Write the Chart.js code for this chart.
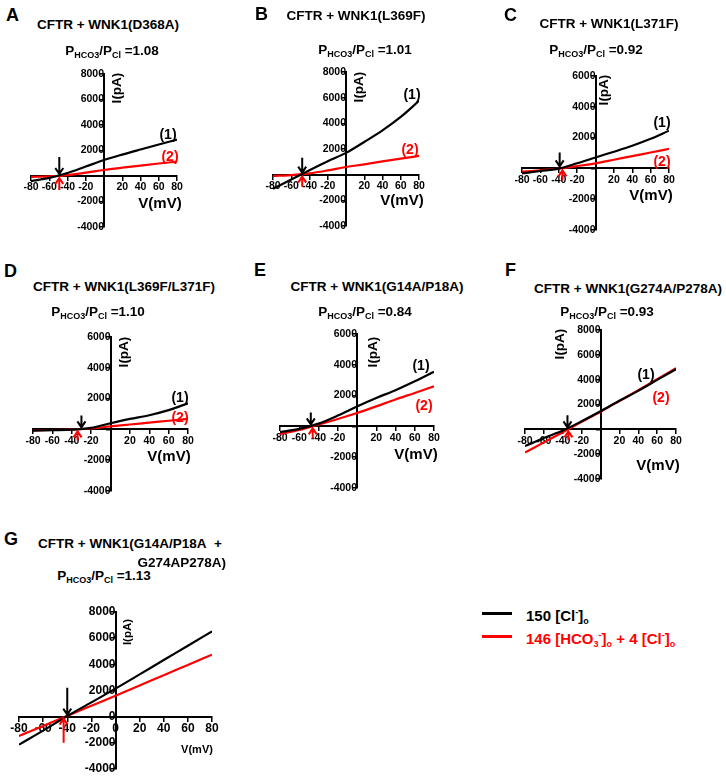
<!DOCTYPE html>
<html>
<head>
<meta charset="utf-8">
<script src="https://cdn.jsdelivr.net/npm/chart.js@4.4.1/dist/chart.umd.min.js"></script>
<style>
  body { margin: 0; background: #fff; font-family: "Liberation Sans", Arial, sans-serif; }
  #fig { position: relative; width: 726px; height: 777px; overflow: hidden; }
  #fig canvas { position: absolute; }
  .t { position: absolute; font-weight: bold; white-space: nowrap; color: #000; line-height: 1; }
  .c { transform: translate(-50%, -50%); }
  .l { transform: translateY(-50%); }
  .v { transform: translate(-50%, -50%) rotate(-90deg); }
  .red { color: #f00; }
  .s { font-size: 9px; position: relative; top: 3px; }
  .sp { font-size: 9px; position: relative; top: -6px; }
  .line { position: absolute; height: 3px; }
</style>
</head>
<body>
<div id="fig"></div>
<script>
// membrane voltage (mV), ramp points
const volts = [-80, -60, -40, -20, 0, 20, 40, 60, 80];

// (1) 150 [Cl-]o, current in pA
const clD368A  = [-400, -150, 230, 740, 1250, 1680, 2080, 2470, 2850];
const clL369F  = [-1100, -370, 350, 1050, 1700, 2550, 3450, 4500, 5750];
const clL371F  = [-320, -170, -15, 330, 712, 1080, 1470, 1920, 2450];
const clDouble = [-80, -50, -20, 100, 400, 680, 920, 1250, 1700];
const clG14A   = [-370, -160, 180, 700, 1300, 1850, 2350, 2930, 3550];
const clG274A  = [-1350, -700, -100, 650, 1450, 2300, 3100, 3980, 4850];
const clQuad   = [-2140, -1070, 50, 1090, 2140, 3230, 4330, 5420, 6520];

// (2) 146 [HCO3-]o + 4 [Cl-]o
const hcoD368A  = [-70, -30, 70, 260, 470, 650, 820, 980, 1130];
const hcoL369F  = [-100, -30, 100, 330, 600, 800, 1030, 1250, 1460];
const hcoL371F  = [-215, -120, -10, 150, 324, 560, 800, 1030, 1270];
const hcoDouble = [-60, -40, -10, 60, 200, 320, 440, 560, 680];
const hcoG14A   = [-500, -230, 120, 480, 870, 1300, 1750, 2170, 2600];
const hcoG274A  = [-1870, -1050, -230, 600, 1420, 2280, 3150, 4030, 4930];
const hcoQuad   = [-1480, -710, 60, 830, 1600, 2380, 3170, 3950, 4740];

// reversal potentials (mV) marked by the arrows
const revCl  = [-49, -48, -39, -30, -48, -35, -40];
const revHco = [-49, -48, -36, -34, -46, -34, -43];

const letters = ['A', 'B', 'C', 'D', 'E', 'F', 'G'];
const titles = ['CFTR + WNK1(D368A)', 'CFTR + WNK1(L369F)', 'CFTR + WNK1(L371F)',
  'CFTR + WNK1(L369F/L371F)', 'CFTR + WNK1(G14A/P18A)', 'CFTR + WNK1(G274A/P278A)',
  'CFTR + WNK1(G14A/P18A&nbsp; +'];
const ratios = ['1.08', '1.01', '0.92', '1.10', '0.84', '0.93', '1.13'];
const yMax = [8000, 8000, 6000, 6000, 6000, 8000, 8000];
const yMin = -4000;
const xStep = 20, yStep = 2000;

const clSets = [clD368A, clL369F, clL371F, clDouble, clG14A, clG274A, clQuad];
const hcoSets = [hcoD368A, hcoL369F, hcoL371F, hcoDouble, hcoG14A, hcoG274A, hcoQuad];

// ---- layout (pixels) ----
// chart area of each panel: left, top, right, bottom
const boxes = [
  [31, 74, 177, 227], [273, 72, 419, 226], [522, 76, 669, 230],
  [33, 337, 188, 491], [280, 334, 434, 488], [525, 330, 676, 479],
  [19, 612, 212, 769]
];
const letterPos = [[6, 15], [255, 14], [504, 15], [4, 271], [254, 270], [505, 270], [4, 539]];
const titlePos = [[108, 24.5], [356, 16], [609, 24], [124, 287], [377, 287], [628, 289], [130, 544]];
const ratioPos = [[112, 51], [365, 50], [596, 50], [98, 312], [365, 312], [607, 312], [104, 576]];
const vPos = [[160, 202], [402, 199], [651, 194], [169, 455], [416, 453], [658, 464], [197, 749]];
const iPos = [[117, 88], [359, 87], [604, 90], [124, 352], [373, 352], [560, 344], [128, 632]];
const oneLbl = [[168, 134], [412, 94], [662, 122], [180, 397], [421, 365], [646, 374]];
const twoLbl = [[170, 156], [410, 149], [662, 161], [180, 417], [424, 405], [661, 397]];
const arrowLen = [[17, 12], [15, 10], [14, 10], [12, 9], [12, 10], [12, 9], [27, 24]];

const fig = document.getElementById('fig');
function addText(html, x, y, cls, size) {
  const d = document.createElement('div');
  d.className = 't ' + cls;
  d.style.left = x + 'px';
  d.style.top = y + 'px';
  d.style.fontSize = size + 'px';
  d.innerHTML = html;
  fig.appendChild(d);
  return d;
}

// arrows at the reversal potentials
const revArrows = {
  id: 'revArrows',
  afterDatasetsDraw(chart, args, o) {
    const ctx = chart.ctx;
    const xs = chart.scales.x, ys = chart.scales.y;
    const y0 = ys.getPixelForValue(0);
    const draw = (v, color, dir, len) => {
      const x = xs.getPixelForValue(v);
      const tip = y0 + dir * 2;
      ctx.save();
      ctx.strokeStyle = color;
      ctx.lineWidth = 2;
      ctx.beginPath();
      ctx.moveTo(x, tip + dir * len);
      ctx.lineTo(x, tip);
      ctx.moveTo(x - 4, tip + dir * 6);
      ctx.lineTo(x, tip);
      ctx.lineTo(x + 4, tip + dir * 6);
      ctx.stroke();
      ctx.restore();
    };
    draw(o.cl, '#000', -1, o.len[0]);
    draw(o.hco, '#f00', 1, o.len[1]);
  }
};

const pad = 26;
for (let i = 0; i < 7; i++) {
  const b = boxes[i];
  const w = b[2] - b[0] + 2 * pad, h = b[3] - b[1] + 2 * pad;
  const cv = document.createElement('canvas');
  cv.width = w; cv.height = h;
  cv.style.left = (b[0] - pad) + 'px';
  cv.style.top = (b[1] - pad) + 'px';
  fig.appendChild(cv);

  const big = i === 6;
  const tickFont = { family: 'Liberation Sans', size: big ? 12 : 10.5, weight: 'bold' };
  const fmt = v => (v === 0 && !big) ? '' : String(v);

  new Chart(cv, {
    type: 'line',
    data: {
      datasets: [
        { data: volts.map((v, k) => ({ x: v, y: clSets[i][k] })), borderColor: '#000' },
        { data: volts.map((v, k) => ({ x: v, y: hcoSets[i][k] })), borderColor: '#f00' }
      ]
    },
    options: {
      responsive: false,
      animation: false,
      layout: { padding: pad },
      elements: {
        line: { borderWidth: 2.2, cubicInterpolationMode: 'monotone' },
        point: { radius: 0 }
      },
      plugins: {
        legend: { display: false },
        tooltip: { enabled: false },
        revArrows: { cl: revCl[i], hco: revHco[i], len: arrowLen[i] }
      },
      scales: {
        x: {
          type: 'linear', min: -80, max: 80, position: { y: 0 },
          ticks: { stepSize: xStep, callback: fmt, font: tickFont, color: '#000', padding: 1, maxRotation: 0, autoSkip: false },
          grid: { drawOnChartArea: false, tickLength: 4, color: '#000', lineWidth: 1.5 },
          border: { color: '#000', width: 2 }
        },
        y: {
          type: 'linear', min: yMin, max: yMax[i], position: { x: 0 },
          ticks: { stepSize: yStep, callback: fmt, font: tickFont, color: '#000', padding: 2, autoSkip: false },
          grid: { drawOnChartArea: false, tickLength: 4, color: '#000', lineWidth: 1.5 },
          border: { color: '#000', width: 2 }
        }
      }
    },
    plugins: [revArrows]
  });

  addText(letters[i], letterPos[i][0], letterPos[i][1], 'l', 18);
  addText(titles[i], titlePos[i][0], titlePos[i][1], 'c', 13.5);
  addText('P<span class="s">HCO3</span>/P<span class="s">Cl</span> =' + ratios[i], ratioPos[i][0], ratioPos[i][1], 'c', 13.5);
  addText('V(mV)', vPos[i][0], vPos[i][1], 'c', big ? 11 : 15);
  addText('I(pA)', iPos[i][0], iPos[i][1], 'v', big ? 11.5 : 13.5);
  if (!big) {
    addText('(1)', oneLbl[i][0], oneLbl[i][1], 'c', 14);
    addText('(2)', twoLbl[i][0], twoLbl[i][1], 'c red', 14);
  }
}
addText('G274AP278A)', 226, 562.5, 'l', 13.5).style.transform = 'translate(-100%, -50%)';

// shared legend
const legLines = [['#000', 612], ['#f00', 634.5]];
legLines.forEach(([c, y]) => {
  const d = document.createElement('div');
  d.className = 'line';
  d.style.left = '482px'; d.style.top = y + 'px'; d.style.width = '30px';
  d.style.background = c;
  fig.appendChild(d);
});
addText('150 [Cl<span class="sp">-</span>]<span class="s">o</span>', 526, 614.5, 'l', 15);
addText('146 [HCO<span class="s">3</span><span class="sp">-</span>]<span class="s">o</span> + 4 [Cl<span class="sp">-</span>]<span class="s">o</span>', 526, 637.5, 'l red', 15);
</script>
</body>
</html>
